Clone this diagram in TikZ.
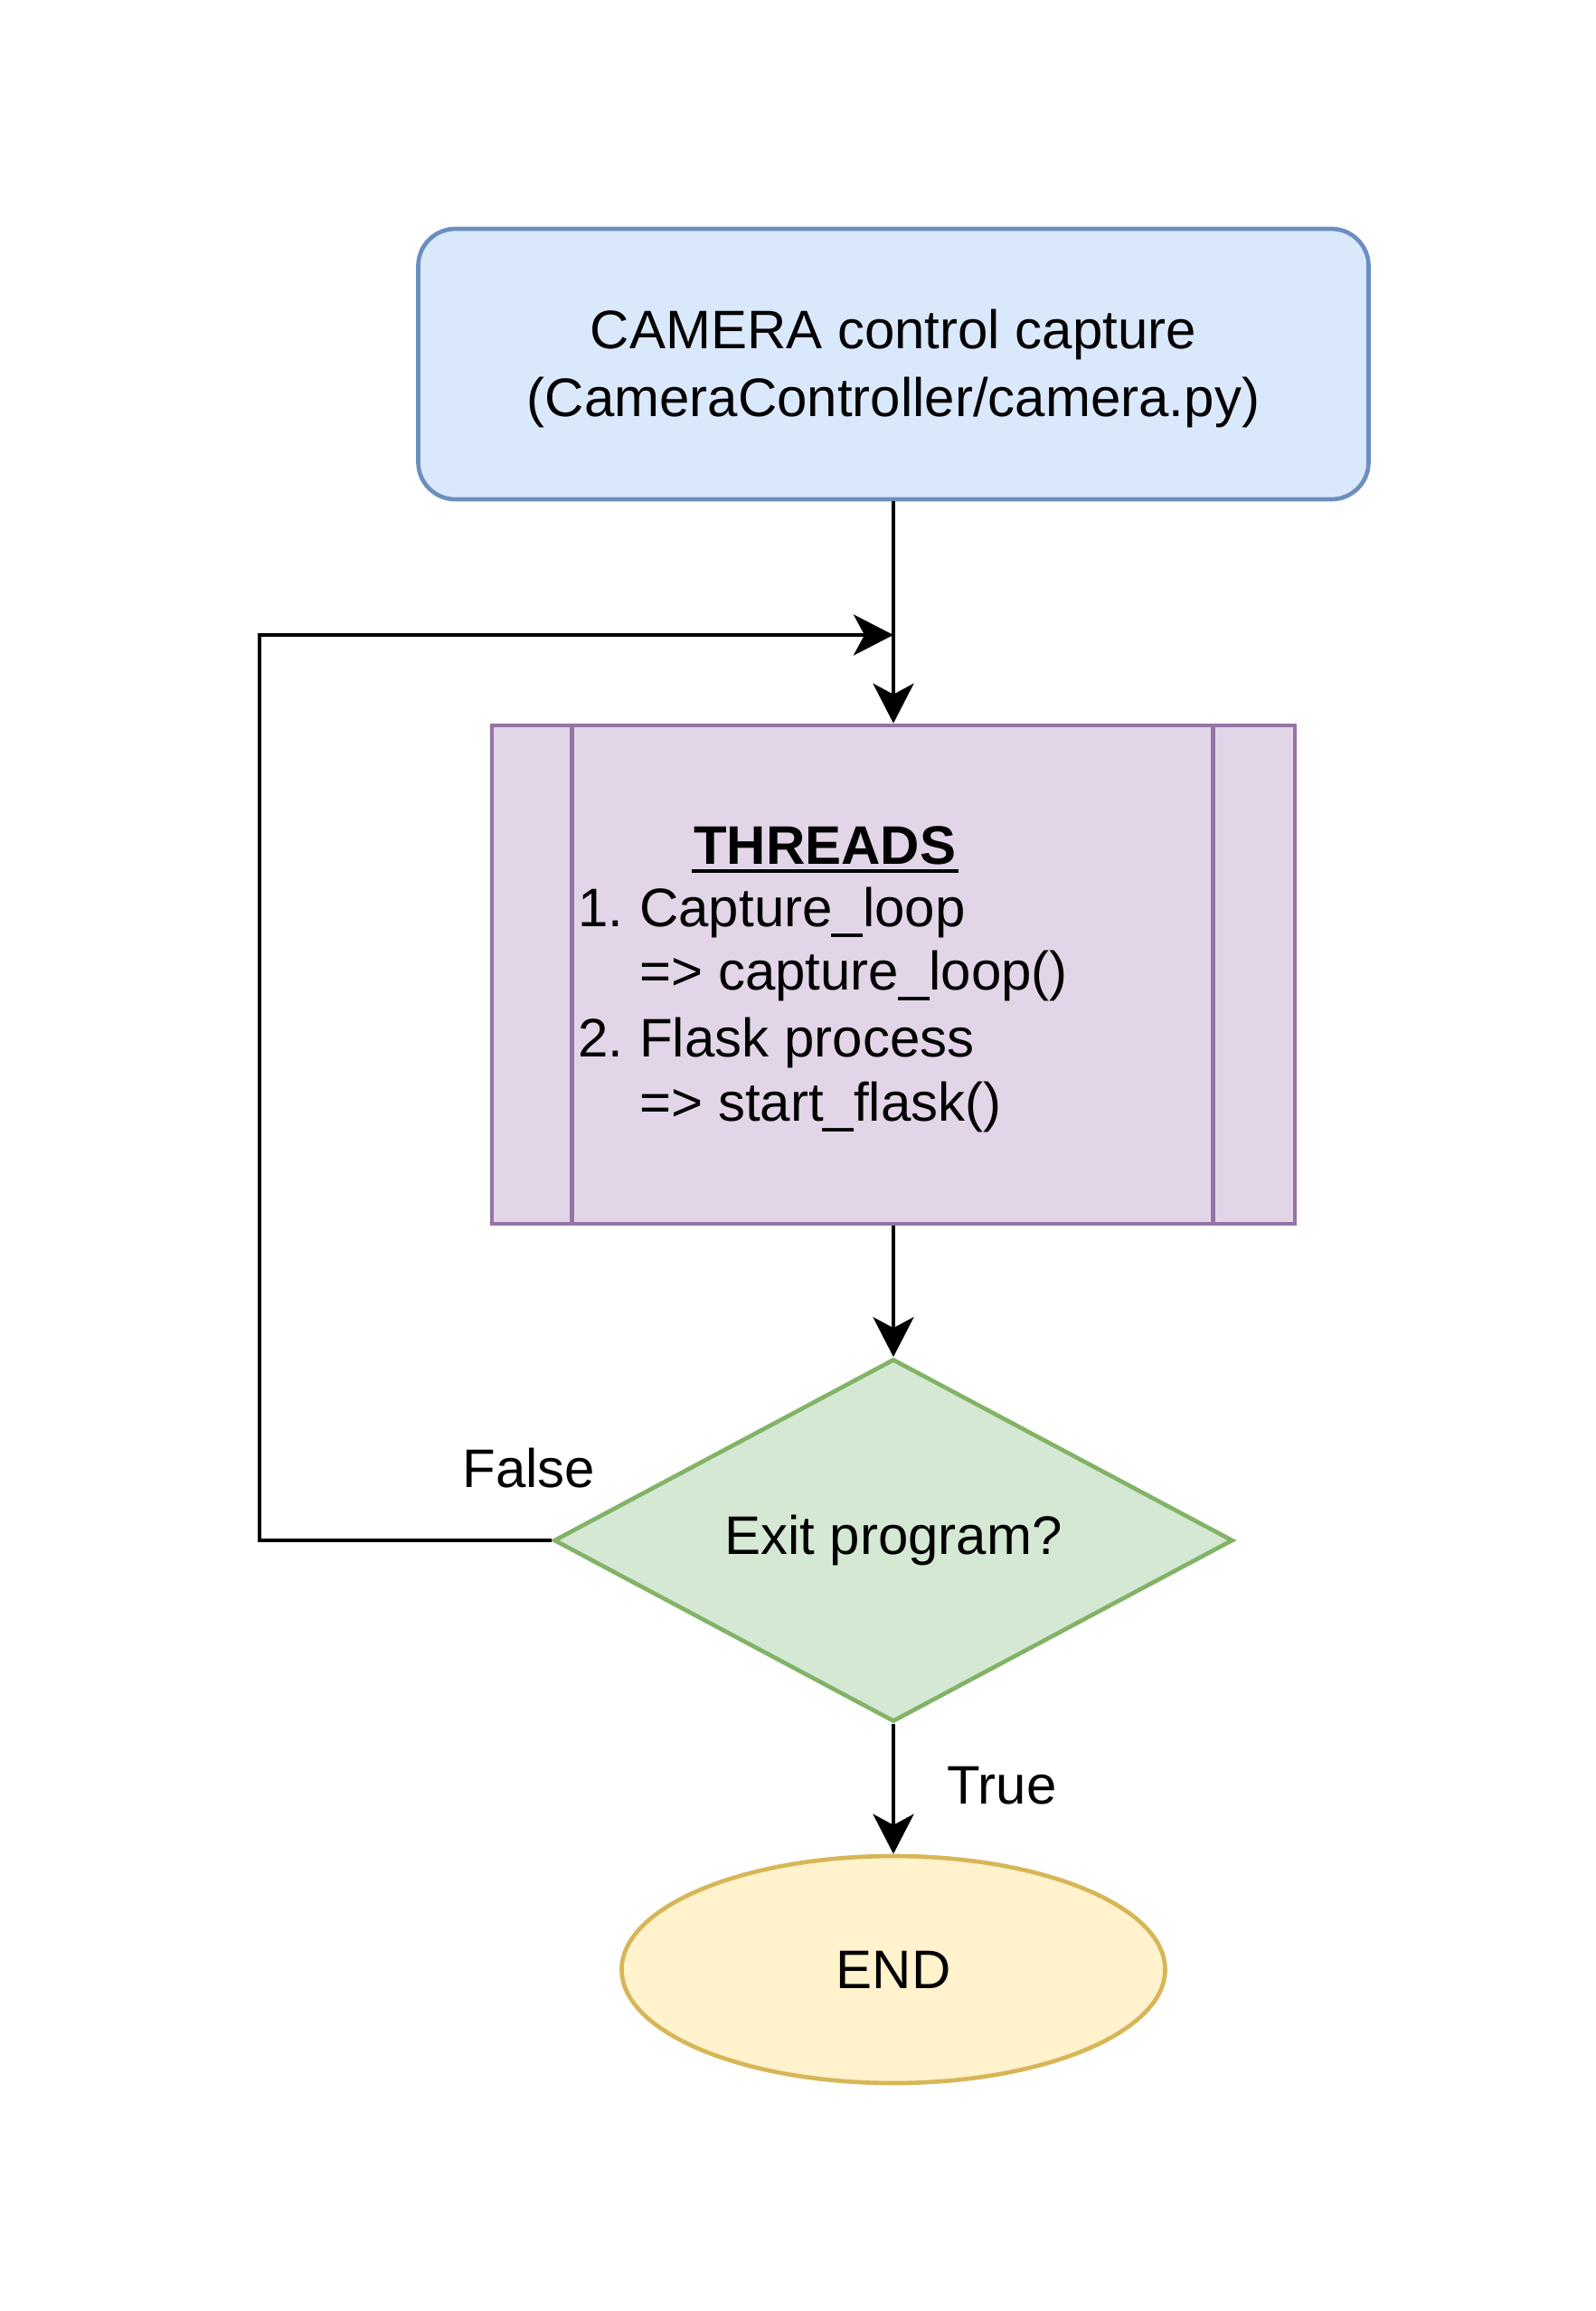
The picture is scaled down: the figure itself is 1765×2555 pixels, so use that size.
\documentclass[tikz,border=0pt]{standalone}
\usepackage{fontspec}
\setmainfont{Liberation Sans}
\usetikzlibrary{shapes.geometric,arrows.meta}
\definecolor{blueF}{HTML}{DAE8FC}
\definecolor{blueS}{HTML}{6C8EBF}
\definecolor{purpF}{HTML}{E1D5E7}
\definecolor{purpS}{HTML}{9673A6}
\definecolor{greenF}{HTML}{D5E8D4}
\definecolor{greenS}{HTML}{82B366}
\definecolor{yelF}{HTML}{FFF2CC}
\definecolor{yelS}{HTML}{D6B656}
\begin{document}
\begin{tikzpicture}[x=0.5pt,y=-0.5pt,line width=2.33pt,
  font=\fontsize{30pt}{37.5pt}\selectfont,
  startbox/.style={draw=blueS,fill=blueF,rounded corners=20.5pt,minimum width=525.5pt,minimum height=149.5pt,inner sep=0pt,align=center},
  procbox/.style={draw=purpS,fill=purpF,minimum width=444pt,minimum height=275.5pt,inner sep=0pt},
  decision/.style={diamond,draw=greenS,fill=greenF,minimum width=375.5pt,minimum height=200.5pt,aspect=1.87,inner sep=0pt},
  terminal/.style={ellipse,draw=yelS,fill=yelF,minimum width=300.5pt,minimum height=125.5pt,inner sep=0pt},
  flow/.style={draw=black,-{Stealth[length=22pt,width=22.5pt,inset=6pt]}},
  txt/.style={inner sep=0pt,anchor=base west},
  lbl/.style={inner sep=0pt,anchor=base}]
\fill[white] (0,0) rectangle (1765,2555);
\useasboundingbox (0,0) rectangle (1765,2555);

% shapes
\node[startbox] (start) at (988,402.5) {\rule{0pt}{27pt}CAMERA control capture\\(CameraController/camera.py)};
\node[procbox] (threads) at (988,1077.5) {};
\draw[purpS] ([xshift=45.5pt]threads.north west) -- ([xshift=45.5pt]threads.south west);
\draw[purpS] ([xshift=-46.5pt]threads.north east) -- ([xshift=-46.5pt]threads.south east);
\node[decision] (dec) at (988,1703) {Exit program?};
\node[terminal] (finish) at (988,2177.5) {END};

% process text
\node[txt] (t1) at (765,955) {\bfseries THREADS};
\draw[line width=2.2pt] ([yshift=-4pt]t1.base west) -- ([yshift=-4pt]t1.base east);
\node[txt] (t2) at (637,1024) {\makebox[34pt][l]{1.}Capture\_loop};
\node[txt] (t3) at (705,1094) {=> capture\_loop()};
\node[txt] (t4) at (637,1168) {\makebox[34pt][l]{2.}Flask process};
\node[txt] (t5) at (705,1239) {=> start\_flask()};

% labels
\node[lbl] (lfalse) at (585,1644) {False};
\node[lbl] (ltrue) at (1108,1994) {True};

% connectors
\coordinate (loopcorner) at (287,702);
\coordinate (merge) at (988,702);
\draw[flow] (start.south) -- (threads.north);
\draw[flow] (dec.west) -| (loopcorner) -- (merge);
\draw[flow] (threads.south) -- (dec.north);
\draw[flow] (dec.south) -- (finish.north);
\end{tikzpicture}
\end{document}
